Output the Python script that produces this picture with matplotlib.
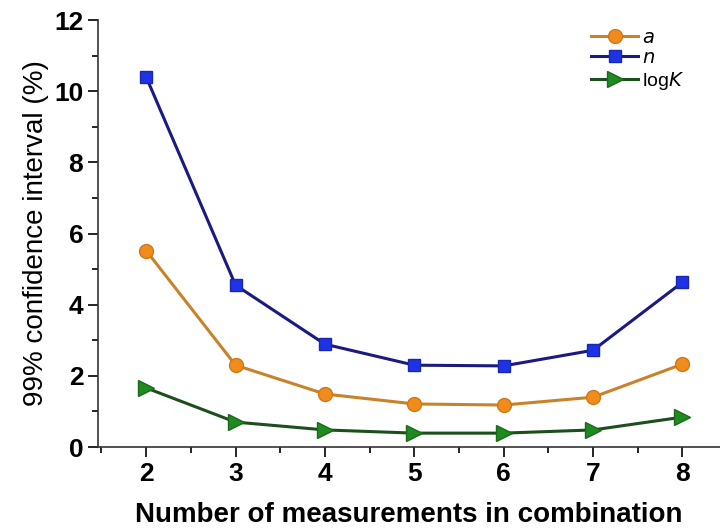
import matplotlib
matplotlib.use("Agg")
import matplotlib.pyplot as plt
from matplotlib.ticker import MultipleLocator

plt.rcParams['font.family'] = ['Liberation Sans', 'DejaVu Sans']

# Data:
n_meas = [2, 3, 4, 5, 6, 7, 8]
ci_a = [5.52, 2.30, 1.49, 1.21, 1.18, 1.40, 2.33]
ci_n = [10.40, 4.55, 2.89, 2.30, 2.28, 2.72, 4.63]
ci_logK = [1.66, 0.70, 0.48, 0.39, 0.39, 0.48, 0.84]

fig = plt.figure(figsize=(7.2, 5.29), dpi=100)
ax = fig.add_axes([0.136, 0.155, 0.864, 0.807])

# Series: line colour, marker face colour
ax.plot(n_meas, ci_a, '-', color='#c8822a', lw=2.2, marker='o', ms=10,
        mfc='#f08c1c', mec='#d07818', label='$a$')
ax.plot(n_meas, ci_n, '-', color='#1a1a80', lw=2.2, marker='s', ms=9,
        mfc='#1e32e6', mec='#1a28b0', label='$n$')
ax.plot(n_meas, ci_logK, '-', color='#1c4f1c', lw=2.2, marker='>', ms=11,
        mfc='#1f8a1f', mec='#1a6a1a', label='log$K$')

ax.set_xlim(1.46, 8.42)
ax.set_ylim(0, 12)
ax.xaxis.set_major_locator(MultipleLocator(1))
ax.xaxis.set_minor_locator(MultipleLocator(0.5))
ax.yaxis.set_major_locator(MultipleLocator(2))
ax.yaxis.set_minor_locator(MultipleLocator(1))
ax.tick_params(which='major', direction='out', length=7, width=1.2,
               labelsize=19)
ax.tick_params(which='minor', direction='out', length=4, width=1.2)
for lab in ax.get_xticklabels() + ax.get_yticklabels():
    lab.set_fontweight('bold')

for side in ['top', 'right']:
    ax.spines[side].set_visible(False)
for side in ['left', 'bottom']:
    ax.spines[side].set_linewidth(1.2)
    ax.spines[side].set_color('#333333')

ax.set_xlabel('Number of measurements in combination', fontsize=20,
              fontweight='bold', labelpad=12)
ax.set_ylabel('99% confidence interval (%)', fontsize=20, labelpad=4)

ax.legend(loc='upper right', bbox_to_anchor=(0.97, 1.02), frameon=False,
          fontsize=14, handlelength=2.4, handletextpad=0.2,
          labelspacing=0.15)

fig.savefig('out.png', dpi=100)
